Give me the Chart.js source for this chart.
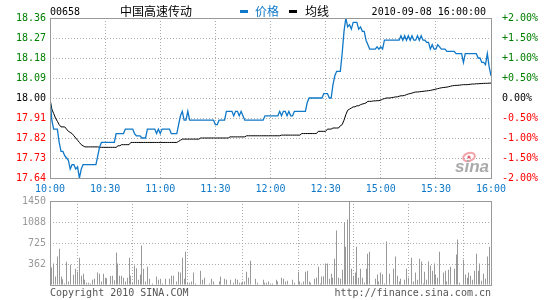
<!DOCTYPE html>
<html>
<head>
<meta charset="utf-8">
<script src="https://cdn.jsdelivr.net/npm/chart.js@4/dist/chart.umd.min.js"></script>
<style>
  body { margin: 0; background: #fff; }
  #wrap { position: relative; width: 545px; height: 300px; overflow: hidden; background: #fff; }
  .box { position: absolute; left: 0; width: 545px; }
  .t { position: absolute; white-space: nowrap; line-height: 12px; font-family: "DejaVu Sans Mono", monospace; font-size: 10px; }
  .cn { font-family: "Noto Sans CJK SC", sans-serif; font-size: 12px; }
</style>
</head>
<body>
<div id="wrap">
  <div class="box" style="top:0;height:195px"><canvas id="priceChart"></canvas></div>
  <div class="box" style="top:190px;height:110px"><canvas id="volChart"></canvas></div>

  <div class="t" style="left:50px;top:6px;color:#000">00658</div>
  <div class="t cn" style="left:120px;top:5px;color:#000">中国高速传动</div>
  <div style="position:absolute;left:240px;top:10px;width:8px;height:3px;background:#0f78c8"></div>
  <div class="t cn" style="left:255px;top:5px;color:#0f78c8">价格</div>
  <div style="position:absolute;left:289px;top:10px;width:8px;height:3px;background:#000"></div>
  <div class="t cn" style="left:305px;top:5px;color:#000">均线</div>
  <div class="t" style="right:59px;top:6px;color:#000">2010-09-08 16:00:00</div>

  <div class="t" style="left:50px;top:287px;color:#555">Copyright 2010 SINA.COM</div>
  <div class="t" style="right:54px;top:287px;color:#555">http://finance.sina.com.cn</div>
</div>

<script>
// minute index: 0 = 10:00 ... 150 = 12:30 | 151 = 14:31 ... 240 = 16:00
var timeTicks = ["10:00","10:30","11:00","11:30","12:00","12:30","15:00","15:30","16:00"];
var priceTicks = [17.64,17.73,17.82,17.91,18.00,18.09,18.18,18.27,18.36];
var pctTicks = [-2,-1.5,-1,-0.5,0,0.5,1,1.5,2];
var volTicks = [0,362.5,725,1087.5,1450];
var volTickLabels = ["","362","725","1088","1450"];
var prevClose = 18.00;

var price = [
 18.00,17.90,17.86,17.86,17.86,17.80,17.76,17.76,17.74,17.73,
 17.72,17.68,17.70,17.70,17.68,17.69,17.64,17.68,17.70,17.70,
 17.70,17.70,17.70,17.70,17.70,17.70,17.74,17.78,17.80,17.80,
 17.80,17.80,17.80,17.80,17.80,17.80,17.84,17.84,17.84,17.84,
 17.84,17.86,17.86,17.86,17.86,17.86,17.84,17.83,17.83,17.83,
 17.82,17.82,17.82,17.86,17.86,17.86,17.86,17.86,17.84,17.86,
 17.84,17.86,17.86,17.86,17.86,17.86,17.84,17.84,17.84,17.84,
 17.88,17.92,17.94,17.90,17.90,17.94,17.90,17.90,17.90,17.90,
 17.90,17.90,17.90,17.90,17.90,17.90,17.90,17.90,17.90,17.90,
 17.88,17.88,17.90,17.90,17.90,17.90,17.94,17.94,17.94,17.94,
 17.92,17.94,17.94,17.92,17.94,17.92,17.90,17.90,17.90,17.90,
 17.90,17.90,17.90,17.90,17.90,17.90,17.90,17.92,17.92,17.92,
 17.92,17.92,17.92,17.92,17.92,17.94,17.92,17.94,17.94,17.92,
 17.94,17.92,17.92,17.94,17.94,17.94,17.94,17.94,17.94,17.94,
 17.98,18.00,18.00,18.00,18.00,18.00,18.00,18.00,18.00,18.02,
 18.02,18.02,18.00,18.00,18.06,18.10,18.12,18.12,18.12,18.20,
 18.30,18.36,18.32,18.33,18.31,18.34,18.34,18.34,18.31,18.32,
 18.30,18.30,18.26,18.24,18.22,18.22,18.22,18.22,18.23,18.22,
 18.23,18.22,18.26,18.26,18.26,18.26,18.26,18.26,18.26,18.26,
 18.26,18.28,18.26,18.28,18.26,18.28,18.26,18.28,18.26,18.26,
 18.28,18.26,18.28,18.26,18.26,18.25,18.25,18.22,18.24,18.22,
 18.22,18.24,18.23,18.22,18.22,18.22,18.21,18.21,18.21,18.21,
 18.21,18.20,18.20,18.20,18.20,18.16,18.20,18.20,18.20,18.20,
 18.20,18.20,18.20,18.18,18.18,18.16,18.16,18.15,18.20,18.14,
 18.10
];

var avgPrice = [
 17.995,17.95,17.93,17.91,17.895,17.88,17.87,17.87,17.87,17.86,
 17.85,17.845,17.84,17.83,17.82,17.81,17.80,17.79,17.785,17.78,
 17.78,17.78,17.78,17.78,17.78,17.78,17.78,17.778,17.778,17.778,
 17.778,17.778,17.778,17.778,17.778,17.778,17.778,17.785,17.785,17.79,
 17.79,17.79,17.79,17.79,17.80,17.80,17.80,17.80,17.80,17.80,
 17.80,17.80,17.80,17.80,17.80,17.80,17.80,17.80,17.80,17.80,
 17.80,17.80,17.80,17.80,17.80,17.80,17.80,17.80,17.80,17.80,
 17.805,17.81,17.815,17.815,17.815,17.815,17.815,17.815,17.815,17.815,
 17.815,17.815,17.82,17.82,17.82,17.82,17.82,17.82,17.82,17.82,
 17.82,17.82,17.82,17.82,17.82,17.82,17.82,17.82,17.825,17.825,
 17.825,17.825,17.825,17.825,17.825,17.825,17.825,17.83,17.83,17.83,
 17.83,17.83,17.83,17.83,17.83,17.83,17.83,17.83,17.83,17.83,
 17.83,17.83,17.83,17.83,17.83,17.83,17.833,17.833,17.833,17.833,
 17.833,17.833,17.833,17.833,17.833,17.833,17.833,17.84,17.84,17.84,
 17.84,17.84,17.84,17.84,17.84,17.84,17.85,17.85,17.85,17.85,
 17.85,17.86,17.86,17.86,17.865,17.865,17.865,17.865,17.875,17.88,
 17.90,17.925,17.945,17.95,17.955,17.96,17.96,17.965,17.965,17.97,
 17.973,17.975,17.978,17.985,17.985,17.985,17.987,17.987,17.988,17.988,
 17.99,17.995,17.997,18.00,18.00,18.00,18.002,18.003,18.005,18.005,
 18.008,18.01,18.01,18.012,18.015,18.018,18.02,18.022,18.025,18.027,
 18.027,18.028,18.029,18.03,18.031,18.032,18.033,18.034,18.036,18.038,
 18.04,18.042,18.044,18.046,18.047,18.048,18.049,18.051,18.053,18.055,
 18.056,18.057,18.057,18.058,18.059,18.06,18.06,18.06,18.061,18.062,
 18.063,18.063,18.064,18.064,18.065,18.065,18.066,18.066,18.066,18.067,
 18.067
];

var volume = [
 0,300,370,145,490,625,145,100,25,400,
 60,350,0,175,280,230,470,160,195,90,
 40,40,25,90,110,0,215,195,60,195,
 125,115,0,155,160,80,560,370,160,160,
 125,60,125,470,160,40,335,290,90,180,
 680,280,60,315,110,0,25,0,145,90,
 110,25,0,110,0,110,160,160,0,60,
 230,215,470,110,575,40,40,60,215,25,
 0,0,245,90,125,0,0,25,110,60,
 0,0,60,145,0,110,90,0,90,0,
 40,110,90,40,40,60,60,230,125,420,
 0,0,110,40,0,0,90,40,40,60,
 25,25,0,90,60,0,125,110,60,75,
 0,0,90,40,0,230,60,25,60,230,
 245,60,40,0,110,125,315,25,145,150,
 370,370,110,195,125,455,940,125,110,265,
 1080,660,1130,1450,280,160,215,660,125,280,
 125,40,280,540,575,0,0,110,180,60,
 215,185,25,750,0,195,0,280,490,160,
 60,110,0,90,280,125,0,470,60,215,
 90,455,405,25,230,90,405,335,245,370,
 180,125,575,0,215,245,60,265,315,0,
 280,525,785,40,0,435,180,125,215,160,
 90,245,540,245,370,75,195,110,490,660,
 1010
];

var blue = "#0f78c8";
var green = "#008000";
var red = "#ff0000";
var gridCol = "#aaaaaa";
var borderCol = "#999999";

Chart.defaults.font.family = "DejaVu Sans Mono";
Chart.defaults.font.size = 10;

function pts(arr) {
  var out = [];
  for (var i = 0; i < arr.length; i++) out.push({ x: i, y: arr[i] });
  return out;
}

function setTicks(list) {
  return function (scale) {
    scale.ticks = list.map(function (v) { return { value: v }; });
  };
}

function signColor(v, zero) {
  if (Math.abs(v - zero) < 1e-6) return "#000";
  return v > zero ? green : red;
}

var frame = {
  id: "frame",
  afterDraw: function (chart) {
    var a = chart.chartArea, c = chart.ctx;
    c.save();
    c.strokeStyle = borderCol;
    c.lineWidth = 1;
    c.setLineDash([]);
    c.strokeRect(Math.round(a.left) + 0.5, Math.round(a.top) + 0.5,
                 Math.round(a.right - a.left), Math.round(a.bottom - a.top));
    c.restore();
  }
};

// snap the 1px volume bars onto whole pixels so they stay crisp
var crispBars = {
  id: "crispBars",
  afterDatasetsUpdate: function (chart) {
    chart.getDatasetMeta(0).data.forEach(function (el) {
      el.x = Math.floor(el.x) + 0.5;
    });
  }
};

var watermark = {
  id: "watermark",
  beforeDatasetsDraw: function (chart) {
    var c = chart.ctx, a = chart.chartArea;
    var x = a.right - 22, y = a.bottom - 21;
    c.save();
    c.strokeStyle = "#f3a3a8";
    c.lineWidth = 2;
    c.beginPath();
    c.ellipse(x, y, 6, 4, -0.3, 0, Math.PI * 2);
    c.stroke();
    c.fillStyle = "#e8606a";
    c.beginPath();
    c.arc(x, y, 1.6, 0, Math.PI * 2);
    c.fill();
    c.fillStyle = "#aaaaaa";
    c.font = "italic bold 17px 'Liberation Sans'";
    c.textBaseline = "alphabetic";
    c.fillText("sina", a.right - 36, a.bottom - 6);
    c.restore();
  }
};

new Chart(document.getElementById("priceChart"), {
  type: "line",
  data: {
    datasets: [
      { label: "价格", data: pts(price), borderColor: blue, borderWidth: 1.3, pointRadius: 0, tension: 0 },
      { label: "均线", data: pts(avgPrice), borderColor: "#000", borderWidth: 1, pointRadius: 0, tension: 0 }
    ]
  },
  options: {
    responsive: true,
    maintainAspectRatio: false,
    animation: false,
    events: [],
    layout: { padding: { top: 18, left: 0, right: 0, bottom: 0 } },
    plugins: { legend: { display: false }, tooltip: { enabled: false } },
    scales: {
      x: {
        type: "linear", min: 0, max: 240,
        afterBuildTicks: setTicks([0,30,60,90,120,150,180,210,240]),
        afterFit: function (s) { s.height = 17; },
        ticks: { color: blue, padding: 5, maxRotation: 0,
                 callback: function (v, i) { return timeTicks[i]; } },
        grid: { color: gridCol, drawTicks: false, lineWidth: 1 },
        border: { display: false, dash: [1, 2] }
      },
      y: {
        position: "left", min: 17.64, max: 18.36,
        afterBuildTicks: setTicks(priceTicks),
        afterFit: function (s) { s.width = 50; },
        ticks: { padding: 4,
                 color: function (ctx) { return signColor(ctx.tick.value, prevClose); },
                 callback: function (v) { return v.toFixed(2); } },
        grid: { color: gridCol, drawTicks: false, lineWidth: 1 },
        border: { display: false, dash: [1, 2] }
      },
      pct: {
        position: "right", min: -2, max: 2,
        afterBuildTicks: setTicks(pctTicks),
        afterFit: function (s) { s.width = 54; },
        ticks: { padding: 3,
                 color: function (ctx) { return signColor(ctx.tick.value, 0); },
                 callback: function (v) { return (v > 0 ? "+" : "") + v.toFixed(2) + "%"; } },
        grid: { display: false },
        border: { display: false }
      }
    }
  },
  plugins: [watermark, frame]
});

new Chart(document.getElementById("volChart"), {
  type: "bar",
  data: {
    datasets: [
      { label: "成交量", data: pts(volume), backgroundColor: "#999999",
        barThickness: 1, categoryPercentage: 1, barPercentage: 1, inflateAmount: 0 }
    ]
  },
  options: {
    responsive: true,
    maintainAspectRatio: false,
    animation: false,
    events: [],
    layout: { padding: { top: 11, left: 0, right: 54, bottom: 0 } },
    plugins: { legend: { display: false }, tooltip: { enabled: false } },
    scales: {
      x: {
        type: "linear", min: 0, max: 240, offset: false,
        afterBuildTicks: setTicks([0,30,60,90,120,150,180,210,240]),
        afterFit: function (s) { s.height = 15; },
        ticks: { display: false },
        grid: { color: gridCol, drawTicks: false, lineWidth: 1 },
        border: { display: false, dash: [1, 2] }
      },
      y: {
        position: "left", min: 0, max: 1450,
        afterBuildTicks: setTicks(volTicks),
        afterFit: function (s) { s.width = 50; },
        ticks: { padding: 4, color: "#999999",
                 callback: function (v, i) { return volTickLabels[i]; } },
        grid: { color: gridCol, drawTicks: false, lineWidth: 1 },
        border: { display: false, dash: [1, 2] }
      }
    }
  },
  plugins: [crispBars, frame]
});
</script>
</body>
</html>
